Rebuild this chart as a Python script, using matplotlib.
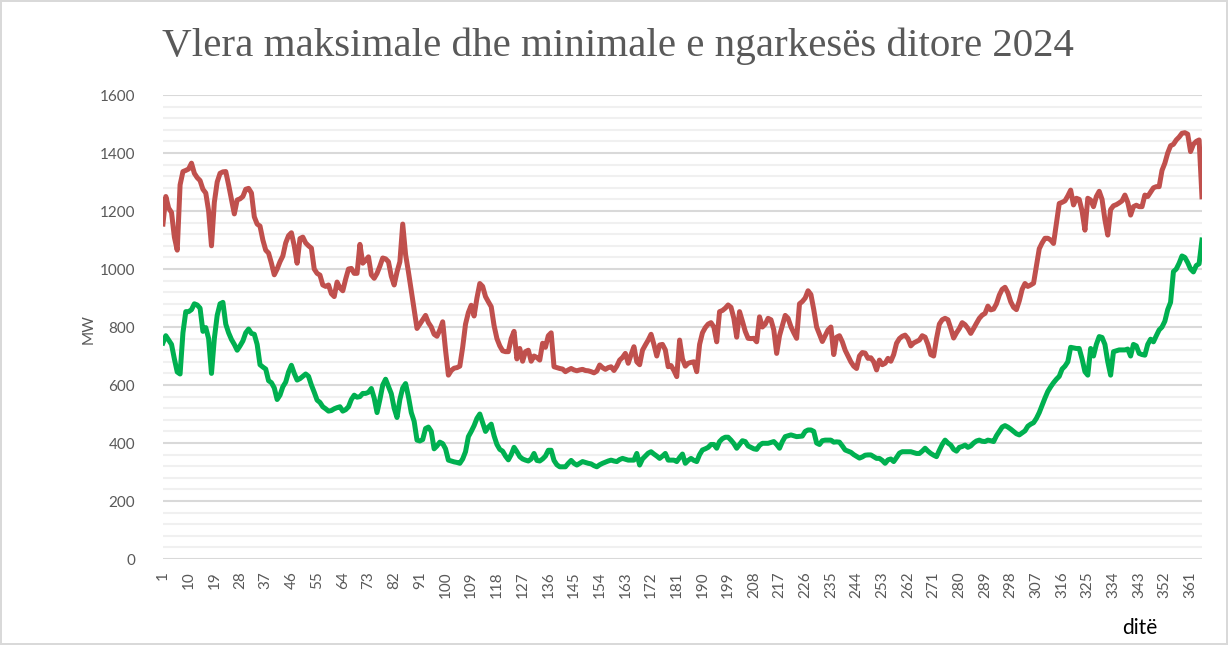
import numpy as np
import matplotlib.pyplot as plt
from matplotlib.ticker import MultipleLocator

# daily maximum load (MW), days 1..365
max_load = [
    1155, 1250, 1210, 1195, 1110, 1065, 1290, 1336, 1340, 1345,
    1365, 1330, 1315, 1305, 1275, 1262, 1200, 1080, 1230, 1300,
    1330, 1335, 1336, 1290, 1240, 1190, 1238, 1242, 1250, 1275,
    1278, 1262, 1180, 1155, 1148, 1100, 1065, 1055, 1020, 980,
    1000, 1025, 1045, 1090, 1115, 1125, 1080, 1020, 1105, 1110,
    1090, 1080, 1072, 1000, 985, 979, 945, 940, 945, 915,
    905, 955, 935, 925, 965, 1000, 1002, 985, 985, 1085,
    1020, 1030, 1042, 980, 968, 985, 1010, 1038, 1035, 1025,
    975, 945, 990, 1025, 1155, 1050, 990, 925, 860, 795,
    810, 825, 840, 815, 800, 775, 768, 790, 818, 720,
    634, 650, 658, 660, 665, 730, 810, 850, 875, 838,
    900, 950, 940, 905, 887, 870, 805, 760, 735, 718,
    715, 715, 760, 785, 690, 726, 682, 715, 720, 682,
    700, 695, 686, 744, 730, 770, 780, 663, 660, 657,
    655, 646, 652, 657, 652, 649, 652, 654, 650, 649,
    646, 642, 648, 669, 660, 654, 660, 663, 650, 665,
    686, 695, 709, 675, 705, 732, 680, 670, 720, 738,
    755, 775, 740, 700, 738, 740, 721, 663, 667, 650,
    629, 755, 690, 665, 675, 678, 680, 646, 740, 780,
    798, 810, 815, 800, 749, 853, 857, 865, 876, 868,
    830, 765, 853, 820, 785, 761, 760, 761, 749, 835,
    800, 810, 830, 825, 790, 709, 770, 805, 840, 830,
    801, 780, 761, 880, 888, 900, 925, 912, 860, 800,
    775, 750, 770, 790, 800, 705, 765, 770, 749, 720,
    700, 680, 665, 657, 700, 712, 710, 692, 694, 680,
    652, 686, 670, 675, 692, 682, 705, 744, 760, 768,
    772, 760, 735, 745, 750, 755, 770, 765, 740, 705,
    700, 760, 810, 825, 830, 825, 795, 762, 780, 795,
    815, 808, 795, 778, 795, 813, 830, 841, 847, 872,
    859, 862, 880, 910, 930, 937, 918, 887, 868, 860,
    890, 930, 950, 940, 945, 951, 1010, 1070, 1090, 1106,
    1106, 1100, 1088, 1158, 1226, 1230, 1235, 1252, 1272, 1221,
    1244, 1240, 1200, 1134, 1244, 1238, 1215, 1250, 1268, 1240,
    1170, 1117, 1205, 1218, 1222, 1228, 1235, 1255, 1230, 1186,
    1215, 1220, 1215, 1215, 1255, 1250, 1265, 1280, 1284, 1284,
    1340, 1365, 1400, 1425, 1430, 1445, 1455, 1468, 1470, 1465,
    1405, 1430, 1440, 1445, 1249,
]

# daily minimum load (MW), days 1..365
min_load = [
    745, 770, 755, 740, 690, 645, 638, 780, 853, 853,
    860, 880, 876, 865, 785, 798, 760, 640, 760, 840,
    880, 885, 810, 780, 757, 740, 720, 735, 752, 780,
    793, 778, 775, 740, 670, 662, 655, 615, 608, 590,
    550, 565, 594, 610, 645, 668, 640, 617, 622, 630,
    638, 630, 600, 575, 548, 540, 525, 518, 510, 512,
    518, 522, 525, 510, 515, 525, 550, 565, 558, 560,
    571, 571, 575, 588, 555, 505, 550, 600, 620, 595,
    570, 520, 488, 550, 590, 605, 560, 505, 475, 410,
    407, 412, 450, 455, 440, 380, 390, 403, 398, 380,
    341, 338, 335, 333, 330, 345, 370, 422, 440, 460,
    485, 500, 470, 440, 455, 465, 425, 395, 378, 372,
    355, 342, 360, 385, 370, 353, 345, 341, 338, 345,
    364, 340, 338, 345, 355, 375, 375, 340, 325, 318,
    318, 318, 330, 340, 330, 324, 330, 336, 333, 330,
    328, 322, 318, 325, 330, 334, 338, 341, 338, 336,
    343, 347, 344, 341, 341, 341, 364, 324, 345, 355,
    365, 370, 362, 355, 347, 355, 364, 341, 341, 341,
    336, 350, 362, 330, 340, 347, 340, 336, 360, 376,
    380, 385, 395, 395, 382, 405, 415, 420, 420, 410,
    398, 382, 395, 408, 405, 390, 385, 380, 378, 392,
    399, 399, 399, 402, 405, 395, 382, 405, 422, 425,
    428, 425, 422, 423, 424, 440, 445, 445, 440, 400,
    395, 408, 410, 410, 410, 403, 404, 403, 390, 376,
    372, 368, 360, 354, 348, 352, 358, 359, 359, 353,
    347, 347, 340, 330, 342, 345, 336, 350, 365, 370,
    370, 370, 370, 367, 364, 364, 372, 382, 372, 364,
    358, 353, 375, 395, 410, 400, 393, 378, 372, 385,
    388, 393, 385, 390, 400, 407, 410, 406, 405, 410,
    408, 405, 425, 440, 455, 460, 455, 448, 440, 432,
    428, 435, 442, 458, 465, 470, 485, 505, 530, 555,
    578, 594, 608, 620, 630, 655, 665, 680, 730, 728,
    726, 726, 690, 646, 634, 726, 700, 740, 767, 764,
    740, 680, 634, 715, 718, 721, 721, 721, 724, 700,
    740, 735, 709, 705, 703, 740, 758, 749, 770, 790,
    800, 820, 860, 885, 991, 1000, 1020, 1045, 1040, 1022,
    1000, 990, 1012, 1018, 1100,
]

days = np.arange(1, len(max_load) + 1)
tick_days = np.arange(1, 366, 9)

fig = plt.figure(figsize=(12.28, 6.45), dpi=100)
fig.patch.set_edgecolor('#d9d9d9')
fig.patch.set_linewidth(1.5)
ax = fig.add_axes([0.1327, 0.1333, 0.8461, 0.7194])

ax.plot(days, max_load, color='#C0504D', lw=3.6, solid_joinstyle='round')
ax.plot(days, min_load, color='#00B050', lw=3.6, solid_joinstyle='round')

ax.set_xlim(1, 365)
ax.set_ylim(0, 1600)
ax.yaxis.set_major_locator(MultipleLocator(200))
ax.yaxis.set_minor_locator(MultipleLocator(40))
ax.grid(axis='y', which='major', color='#d9d9d9', lw=1.5)
ax.grid(axis='y', which='minor', color='#f0f0f0', lw=1.5)
ax.set_axisbelow(True)
for s in ax.spines.values():
    s.set_visible(False)

ax.set_xticks(tick_days)
ax.set_xticklabels([str(d) for d in tick_days], rotation=90)
ax.tick_params(axis='x', length=0, pad=9, labelsize=11, labelcolor='#595959')
ax.tick_params(axis='y', which='both', length=0, pad=20, labelsize=11, labelcolor='#595959')
for lab in ax.get_xticklabels() + ax.get_yticklabels():
    lab.set_family('Lato')

fig.text(0.503, 0.928, 'Vlera maksimale dhe minimale e ngarkesës ditore 2024',
         ha='center', va='center', fontsize=29.5, color='#595959', family='Liberation Serif')
fig.text(0.072, 0.49, 'MW', rotation=90, ha='center', va='center',
         fontsize=11, color='#595959', family='Lato')
fig.text(0.928, 0.026, 'ditë', ha='center', va='center', fontsize=15, color='#000000', family='Lato')

fig.savefig('out.png', dpi=100)
